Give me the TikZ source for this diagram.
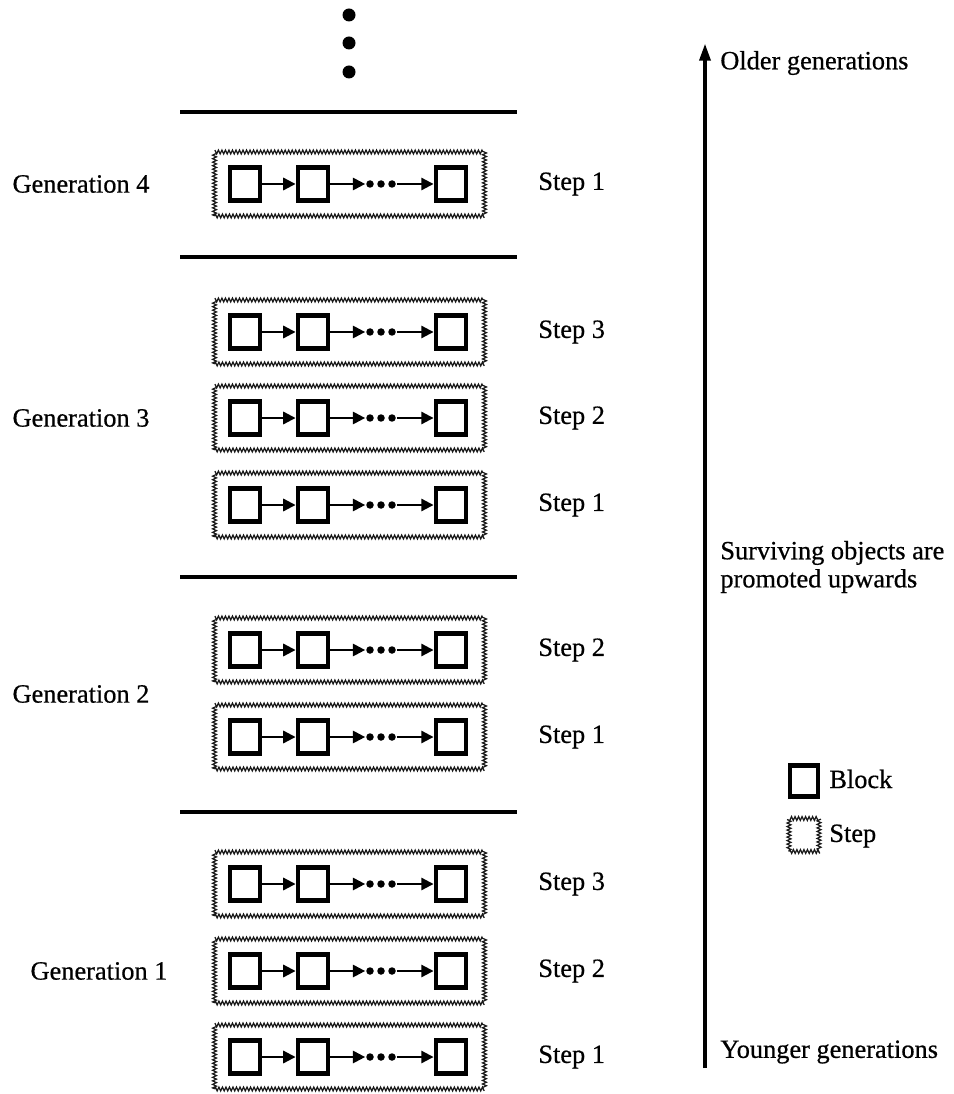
\documentclass[tikz,border=0pt]{standalone}
\usepackage{fontspec}
\setmainfont{Liberation Serif}[FakeBold=0.6]
\usepackage{tikz}
\usetikzlibrary{positioning, arrows.meta, decorations.pathmorphing}

\begin{document}
\begin{tikzpicture}[x=0.02cm, y=-0.02cm, font=\fontsize{15}{18}\selectfont,
    stepbox/.style={draw=black!90, line width=0.7pt, minimum width=5.4cm, minimum height=1.28cm,
                    inner sep=0pt, decorate, decoration={zigzag, amplitude=1.1pt, segment length=2pt}},
    block/.style={draw, line width=2.8pt, minimum width=0.6cm, minimum height=0.66cm, inner sep=0pt},
    gap/.style={minimum width=0.62cm, minimum height=0.15cm, inner sep=0pt},
    link/.style={line width=1.2pt, -{Triangle[length=7pt, width=7pt]}},
    sep/.style={line width=2.2pt},
    steplabel/.style={anchor=west, inner sep=0pt},
    genlabel/.style={inner sep=0pt},
    sidelabel/.style={anchor=west, align=left, inner sep=0pt}]
  \useasboundingbox (0,0) rectangle (953,1094);

  % more generations above
  \foreach \y in {15, 43, 72}
    \fill (349,\y) circle[radius=0.13cm];

  % generation boundaries
  \foreach \y in {112, 257, 577, 812}
    \draw[sep] (180,\y) -- (517,\y);

  % steps
  \foreach \n/\y/\s in {G4S1/184/1, G3S3/332/3, G3S2/418/2, G3S1/505/1, G2S2/650/2,
                        G2S1/737/1, G1S3/884/3, G1S2/971/2, G1S1/1057/1} {
    \node[stepbox]   (\n)   at (349.5,\y) {};
    \node[block]     (\n-A) at (245,\y)   {};
    \node[block]     (\n-B) at (313,\y)   {};
    \node[gap]       (\n-D) at (381,\y)   {};
    \node[block]     (\n-C) at (451,\y)   {};
    \node[steplabel] (\n-L) at (538,\y)   {Step \s};

    \draw[link] (\n-A) -- (\n-B);
    \draw[link] (\n-B) -- (\n-D);
    \draw[link] (\n-D) -- (\n-C);
    \fill (\n-D.center) ++(-11,0) circle[radius=0.075cm] ++(11,0) circle[radius=0.075cm]
          ++(11,0) circle[radius=0.075cm];
  }

  \node[genlabel] (G4) at (81,184)  {Generation 4};
  \node[genlabel] (G3) at (81,418)  {Generation 3};
  \node[genlabel] (G2) at (81,694)  {Generation 2};
  \node[genlabel] (G1) at (99,971)  {Generation 1};

  % promotion arrow
  \coordinate (Y) at (705,1068);
  \coordinate (O) at (705,43);
  \draw[line width=2.4pt, -{Triangle[length=10pt, width=6pt]}] (Y) -- (O);

  \node[sidelabel] (OL) at (720,63)   {Older generations};
  \node[sidelabel] (SL) at (720,567)  {Surviving objects are\\[-2pt]promoted upwards};
  \node[sidelabel] (YL) at (720,1052) {Younger generations};

  % legend
  \node[block, line width=2.6pt, minimum width=0.56cm, minimum height=0.62cm] (LB) at (804,781) {};
  \node[sidelabel] (LBT) at (829,779) {Block};
  \node[stepbox, minimum width=0.6cm, minimum height=0.66cm] (LS) at (804,835) {};
  \node[sidelabel] (LST) at (829,836) {Step};
\end{tikzpicture}
\end{document}
